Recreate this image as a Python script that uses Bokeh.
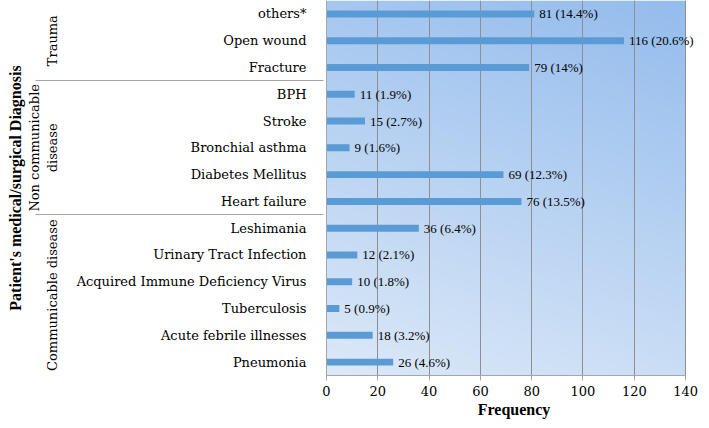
import numpy as np
from bokeh.plotting import figure
from bokeh.models import ColumnDataSource, FactorRange, LabelSet, FixedTicker, Range1d
from bokeh.embed import file_html
from bokeh.resources import INLINE

# ---- data (top to bottom as in the chart) ----
groups = ["Trauma"] * 3 + ["Non communicable\ndisease"] * 5 + ["Communicable disease"] * 6
diagnoses = ["others*", "Open wound", "Fracture",
             "BPH", "Stroke", "Bronchial asthma", "Diabetes Mellitus", "Heart failure",
             "Leshimania", "Urinary Tract Infection", "Acquired Immune Deficiency Virus",
             "Tuberculosis", "Acute febrile illnesses", "Pneumonia"]
frequency = [81, 116, 79, 11, 15, 9, 69, 76, 36, 12, 10, 5, 18, 26]
percent = ["14.4%", "20.6%", "14%", "1.9%", "2.7%", "1.6%", "12.3%", "13.5%",
           "6.4%", "2.1%", "1.8%", "0.9%", "3.2%", "4.6%"]
x_ticks = [0, 20, 40, 60, 80, 100, 120, 140]

SERIF = "DejaVu Serif"          # regular serif text
SERIF_BOLD = "Liberation Serif"  # bold titles
VIEW_END = 146.2                 # room on the right for the value labels

factors = [(g, d) for g, d in zip(groups, diagnoses)][::-1]  # bottom to top
labels = [f"{f} ({p})" for f, p in zip(frequency, percent)][::-1]
source = ColumnDataSource(dict(y=factors, x=frequency[::-1], label=labels))

y_range = FactorRange(factors=factors, group_padding=0, factor_padding=0, range_padding=0)
x_range = Range1d(x_ticks[0], VIEW_END)

p = figure(width=701, height=420, y_range=y_range, x_range=x_range,
           output_backend="svg", toolbar_location=None,
           min_border_top=0, min_border_left=326, min_border_right=0, min_border_bottom=43)
p.outline_line_color = None
p.background_fill_color = "white"

# gradient background of the plot area (0..140)
ny, nx = 120, 120
yy, xx = np.mgrid[0:ny, 0:nx]
v = yy / (ny - 1)
u = xx / (nx - 1)
d = 0.75 * v + 0.25 * u
light = np.array([220, 233, 248])
dark = np.array([148, 188, 237])
img = np.empty((ny, nx), dtype=np.uint32)
view = img.view(dtype=np.uint8).reshape((ny, nx, 4))
for k in range(3):
    view[:, :, k] = (light[k] + (dark[k] - light[k]) * d).astype(np.uint8)
view[:, :, 3] = 255
p.image_rgba(image=[img], x=x_ticks[0], y=0, dw=x_ticks[-1] - x_ticks[0],
             dh=len(diagnoses), level="image")

p.hbar(y="y", right="x", left=0, height=0.26, source=source,
       fill_color="#5b9bd5", line_color=None)

p.add_layout(LabelSet(x="x", y="y", text="label", source=source, x_offset=5,
                      text_baseline="middle", text_font=SERIF,
                      text_font_size="13px", text_color="black"))

# grid
p.xgrid.grid_line_color = "#8f8f8f"
p.xgrid.ticker = FixedTicker(ticks=x_ticks)
p.ygrid.grid_line_color = None

# x axis
xa = p.xaxis[0]
xa.ticker = FixedTicker(ticks=x_ticks)
xa.bounds = (x_ticks[0], x_ticks[-1])
xa.axis_line_color = "#a6a6a6"
xa.major_tick_line_color = "#a6a6a6"
xa.major_tick_out = 5
xa.major_tick_in = 0
xa.minor_tick_line_color = None
xa.major_label_text_font = SERIF
xa.major_label_text_font_size = "13px"
xa.major_label_text_color = "black"
xa.major_label_standoff = 5
xa.axis_label = "Frequency"
xa.axis_label_text_font = SERIF_BOLD
xa.axis_label_text_font_size = "16px"
xa.axis_label_text_font_style = "bold"
xa.axis_label_text_color = "black"
xa.axis_label_standoff = 2

# y axis
ya = p.yaxis[0]
ya.axis_line_color = "#a6a6a6"
ya.major_tick_line_color = None
ya.minor_tick_line_color = None
ya.major_label_text_font = SERIF
ya.major_label_text_font_size = "13px"
ya.major_label_text_color = "black"
ya.major_label_standoff = 14
ya.group_text_font = SERIF
ya.group_text_font_size = "13px"
ya.group_text_font_style = "normal"
ya.group_text_color = "black"
ya.separator_line_color = "#a6a6a6"
ya.separator_line_width = 1
ya.axis_label = "Patient's medical/surgical Diagnosis"
ya.axis_label_text_font = SERIF_BOLD
ya.axis_label_text_font_size = "16px"
ya.axis_label_text_font_style = "bold"
ya.axis_label_text_color = "black"
ya.axis_label_standoff = 0

open("out.html", "w").write(file_html(p, INLINE))
